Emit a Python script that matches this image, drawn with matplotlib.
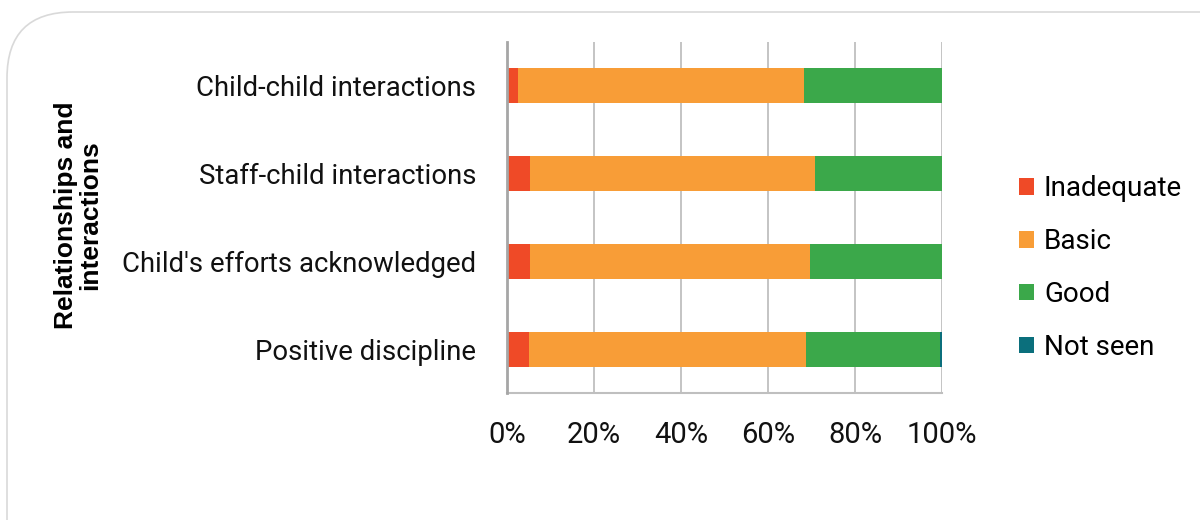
import matplotlib
matplotlib.use("Agg")
import matplotlib.pyplot as plt
from matplotlib.patches import FancyBboxPatch
import numpy as np

categories = ["Child-child interactions", "Staff-child interactions",
              "Child's efforts acknowledged", "Positive discipline"]
series_names = ["Inadequate", "Basic", "Good", "Not seen"]
inadequate = [2.5, 5.4, 5.4, 5.1]
basic = [65.7, 65.5, 64.2, 63.7]
good = [31.8, 29.1, 30.4, 30.8]
not_seen = [0.0, 0.0, 0.0, 0.4]
colors = ["#EF4A27", "#F89D37", "#3BA84A", "#0B6F7C"]
xticks = [0, 20, 40, 60, 80, 100]
xtick_labels = ["0%", "20%", "40%", "60%", "80%", "100%"]
ylabel = "Relationships and\ninteractions"

plt.rcParams['font.family'] = ['Roboto', 'DejaVu Sans']

fig = plt.figure(figsize=(12, 5.2), dpi=100)
# card border
card = FancyBboxPatch((7/1200, -0.2), 1.2, 1 - 12/520 + 0.2,
                      boxstyle="round,pad=0,rounding_size=0.055",
                      transform=fig.transFigure, facecolor="white",
                      edgecolor="#D9D9D9", linewidth=1.2,
                      mutation_aspect=1200/520, zorder=-10)
fig.patches.append(card)

ax = fig.add_axes([507/1200, 1 - 393/520, 435/1200, 351/520])
ax.set_facecolor("none")
ax.set_zorder(5)

y = np.arange(len(categories))
data = [inadequate, basic, good, not_seen]
left = np.zeros(len(categories))
for name, vals, c in zip(series_names, data, colors):
    vals = np.array(vals)
    ax.barh(y, vals, left=left, height=0.4, color=c, label=name, zorder=3)
    left += vals

ax.set_xlim(0, 100)
ax.set_ylim(len(categories) - 0.5, -0.5)
ax.set_yticks(y)
ax.set_yticklabels(categories, fontsize=19.8, color="#111111")
ax.set_xticks(xticks)
ax.set_xticklabels(xtick_labels, fontsize=21, color="#111111")
ax.tick_params(axis='both', length=0)
ax.tick_params(axis='x', pad=20)
ax.tick_params(axis='y', pad=22)
ax.grid(axis='x', color="#BFBFBF", linewidth=1.3, zorder=0)
for s in ["top", "right"]:
    ax.spines[s].set_visible(False)
ax.spines["left"].set_color("#A6A6A6")
ax.spines["left"].set_linewidth(2)
ax.spines["left"].set_zorder(4)
ax.spines["bottom"].set_color("#BFBFBF")
ax.spines["bottom"].set_linewidth(1.5)

fig.text(78/1200, 1 - 215/520, ylabel, rotation=90, ha="center", va="center",
         fontsize=19, fontweight="bold", family=["Liberation Sans", "DejaVu Sans"],
         linespacing=1.05, zorder=6)

handles, labels = ax.get_legend_handles_labels()
leg = fig.legend(handles, labels, loc="center left",
                 bbox_to_anchor=(994/1200, 1 - 268/520), frameon=False,
                 fontsize=20, handlelength=0.55, handleheight=0.55,
                 handletextpad=0.35, labelspacing=0.93)
leg.set_zorder(6)

fig.savefig("out.png", dpi=100)
